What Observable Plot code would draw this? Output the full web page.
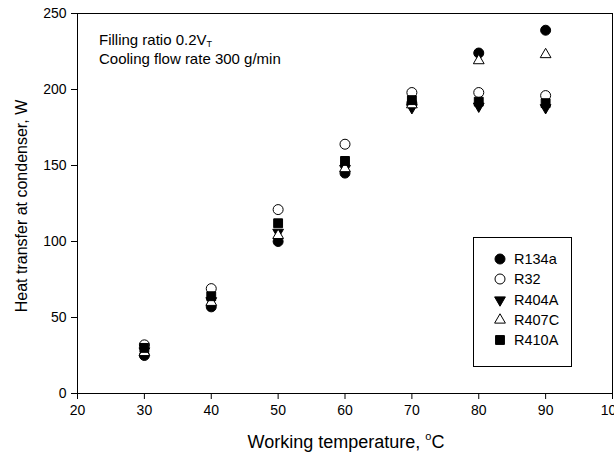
<!DOCTYPE html>
<html>
<head>
<meta charset="utf-8">
<script src="https://cdn.jsdelivr.net/npm/d3@7"></script>
<script src="https://cdn.jsdelivr.net/npm/@observablehq/plot@0.6"></script>
<style>
  body { margin: 0; background: #fff; }
  #wrap { position: relative; width: 614px; height: 461px; font-family: "Liberation Sans", Arial, sans-serif; color: #000; overflow: hidden; }
  .note { position: absolute; left: 99px; font-size: 15px; line-height: 1; white-space: nowrap; }
  .note sub { font-size: 9px; vertical-align: -2px; line-height: 1; }
  #xlab { position: absolute; left: 0; width: 692px; top: 430px; text-align: center; font-size: 18px; line-height: 1.2; }
  #xlab sup { font-size: 11px; vertical-align: 8px; }
  #ylab { position: absolute; left: 22px; top: 206px; transform: translate(-50%, -50%) rotate(-90deg); font-size: 16px; white-space: nowrap; }
  #legend { position: absolute; left: 473px; top: 237px; width: 99px; height: 130px; border: 1px solid #000; box-sizing: border-box; background: #fff; }
  #legend .row { position: absolute; left: 0; font-size: 14.5px; display: flex; align-items: center; height: 16px; }
  #legend svg { display: block; }
</style>
</head>
<body>
<div id="wrap"></div>
<script>
const temps = [30, 40, 50, 60, 70, 80, 90];
const R134a = [25, 57, 100, 145, 191, 224, 239];
const R32   = [32, 69, 121, 164, 198, 198, 196];
const R404A = [28, 61, 106, 148, 188, 189, 188];
const R407C = [27, 60, 104, 148, 190, 219, 223];
const R410A = [30, 64, 112, 153, 193, 192, 191];
const seriesNames = ["R134a", "R32", "R404A", "R407C", "R410A"];
const xTicks = [20, 30, 40, 50, 60, 70, 80, 90, 100];
const yTicks = [0, 50, 100, 150, 200, 250];

const triangleDown = {
  draw(context, size) {
    const s = Math.sqrt(size / (Math.sqrt(3) / 4));
    const h = s * Math.sqrt(3) / 2;
    context.moveTo(0, h * 2 / 3);
    context.lineTo(-s / 2, -h / 3);
    context.lineTo(s / 2, -h / 3);
    context.closePath();
  }
};
const styles = {
  R134a: {symbol: "circle", fill: "#000", r: 5},
  R32: {symbol: "circle", fill: "#fff", r: 5},
  R404A: {symbol: triangleDown, fill: "#000", r: 4},
  R407C: {symbol: "triangle", fill: "#fff", r: 4},
  R410A: {symbol: "square", fill: "#000", r: 5}
};
const values = {R134a, R32, R404A, R407C, R410A};

const marks = [Plot.frame({stroke: "#000", strokeWidth: 1})];
for (const name of seriesNames) {
  const data = temps.map((t, i) => ({t, v: values[name][i]}));
  const st = styles[name];
  marks.push(Plot.dot(data, {x: "t", y: "v", symbol: () => st.symbol, r: st.r, fill: st.fill, stroke: "#000", strokeWidth: 1}));
}

const chart = Plot.plot({
  width: 614,
  height: 461,
  marginLeft: 77,
  marginRight: 2,
  marginTop: 13,
  marginBottom: 68,
  style: {fontFamily: "Liberation Sans, Arial, sans-serif", fontSize: "14px", color: "#000", background: "transparent", overflow: "visible"},
  symbol: {type: "identity"},
  x: {domain: [20, 100], ticks: xTicks, tickSize: 6, tickPadding: 6, label: null},
  y: {domain: [0, 250], ticks: yTicks, tickSize: 6, tickPadding: 5, label: null},
  marks
});
chart.style.position = "absolute";
chart.style.left = "0";
chart.style.top = "0";
const wrap = document.getElementById("wrap");
wrap.appendChild(chart);

const n1 = document.createElement("div");
n1.className = "note"; n1.style.top = "32px";
n1.innerHTML = "Filling ratio 0.2V<sub>T</sub>";
wrap.appendChild(n1);
const n2 = document.createElement("div");
n2.className = "note"; n2.style.top = "51px";
n2.textContent = "Cooling flow rate 300 g/min";
wrap.appendChild(n2);

const xl = document.createElement("div");
xl.id = "xlab"; xl.innerHTML = "Working temperature, <sup>o</sup>C";
wrap.appendChild(xl);
const yl = document.createElement("div");
yl.id = "ylab"; yl.textContent = "Heat transfer at condenser, W";
wrap.appendChild(yl);

const leg = document.createElement("div");
leg.id = "legend";
wrap.appendChild(leg);
seriesNames.forEach((name, i) => {
  const st = styles[name];
  const row = document.createElement("div");
  row.className = "row";
  row.style.top = (13 + i * 20.3) + "px";
  const svg = d3.create("svg").attr("width", 34).attr("height", 16);
  const sym = st.symbol === "circle" ? d3.symbolCircle : st.symbol === "triangle" ? d3.symbolTriangle : st.symbol === "square" ? d3.symbolSquare : st.symbol;
  svg.append("path")
    .attr("transform", "translate(26,8)")
    .attr("d", d3.symbol(sym, Math.PI * st.r * st.r)())
    .attr("fill", st.fill).attr("stroke", "#000");
  row.appendChild(svg.node());
  const lab = document.createElement("span");
  lab.style.marginLeft = "6px";
  lab.textContent = name;
  row.appendChild(lab);
  leg.appendChild(row);
});
</script>
</body>
</html>
